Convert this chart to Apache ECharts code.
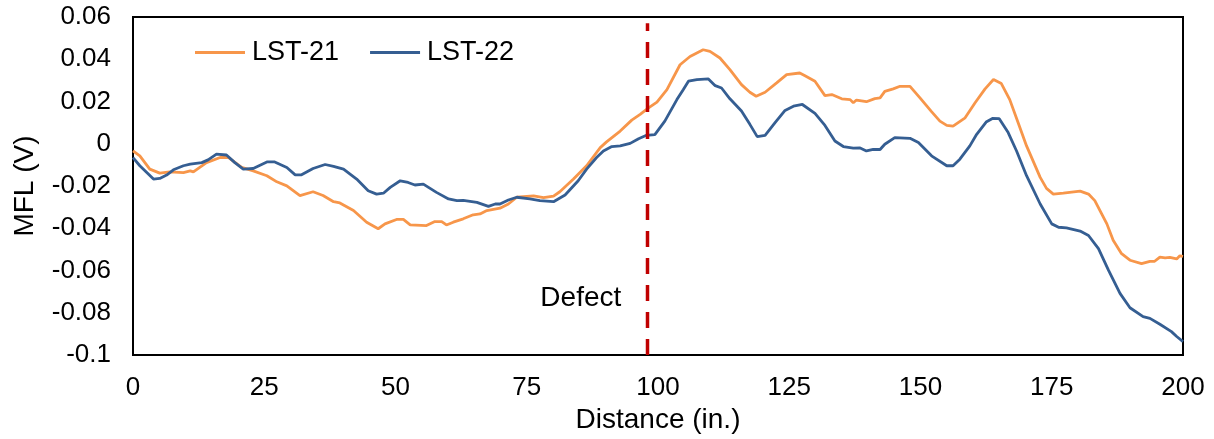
<!DOCTYPE html>
<html>
<head>
<meta charset="utf-8">
<script src="https://cdn.jsdelivr.net/npm/echarts@6/dist/echarts.min.js"></script>
<style>
html,body{margin:0;padding:0;background:#fff;}
#chart{width:1214px;height:439px;}
</style>
</head>
<body>
<div id="chart"></div>
<script>
// Distance (in.) vs MFL (V)
const lst21 = [[0,-0.0034],[1.3,-0.0057],[3.2,-0.012],[5.1,-0.0139],[7.0,-0.0133],[9.6,-0.0136],[10.9,-0.0128],[11.5,-0.0133],[14.0,-0.0089],[16.6,-0.0065],[18.2,-0.0065],[20.7,-0.0112],[22.9,-0.0128],[25.5,-0.0151],[27.4,-0.018],[29.3,-0.0199],[31.8,-0.0245],[34.3,-0.0227],[36.2,-0.0245],[38.2,-0.0274],[39.4,-0.028],[42.0,-0.0316],[44.5,-0.0371],[46.7,-0.0402],[48.0,-0.0379],[50.2,-0.0358],[51.5,-0.0358],[52.8,-0.0384],[55.9,-0.0387],[57.5,-0.0368],[58.8,-0.0368],[59.7,-0.0384],[61.0,-0.0371],[62.9,-0.0355],[64.8,-0.0336],[66.1,-0.0332],[67.4,-0.0316],[69.9,-0.0305],[71.5,-0.0285],[73.1,-0.0253],[76.3,-0.0246],[78.2,-0.0255],[80.1,-0.0248],[81.3,-0.0227],[83.9,-0.0167],[86.4,-0.0104],[89.0,-0.0018],[90.2,0.0009],[92.8,0.006],[95.0,0.0112],[96.6,0.0139],[98.2,0.017],[99.8,0.0197],[101.7,0.0256],[104.2,0.0374],[106.1,0.0413],[108.6,0.0445],[109.9,0.0437],[111.8,0.0406],[113.7,0.0351],[115.9,0.028],[117.5,0.0244],[118.7,0.0225],[120.4,0.0244],[122.6,0.0288],[124.5,0.0327],[127.0,0.0335],[128.0,0.0322],[129.9,0.0296],[131.8,0.0228],[133.1,0.0233],[135.0,0.0213],[136.6,0.0209],[137.2,0.0194],[137.8,0.0207],[139.7,0.0199],[141.3,0.0214],[142.3,0.0217],[143.2,0.0248],[144.8,0.026],[146.1,0.0272],[148.0,0.0272],[149.9,0.0217],[152.1,0.0152],[153.7,0.0107],[155.0,0.0087],[156.2,0.0084],[158.5,0.0123],[160.4,0.0194],[162.3,0.026],[163.9,0.0304],[165.4,0.0285],[167.0,0.0209],[168.6,0.01],[170.2,-0.001],[172.8,-0.0159],[174.0,-0.0211],[175.3,-0.0238],[177.2,-0.0233],[180.4,-0.0224],[182.0,-0.0238],[183.2,-0.0269],[185.5,-0.0379],[186.7,-0.0457],[188.3,-0.052],[189.9,-0.0551],[192.1,-0.0567],[193.7,-0.0556],[194.6,-0.0556],[195.6,-0.0536],[196.6,-0.054],[197.5,-0.0538],[198.8,-0.0545],[199.4,-0.053],[200,-0.0533]];

const lst22 = [[0,-0.0065],[1.3,-0.0104],[3.9,-0.0167],[5.1,-0.0164],[6.4,-0.0148],[7.7,-0.0123],[9.6,-0.0104],[10.9,-0.0096],[13.1,-0.0089],[14.3,-0.0076],[15.9,-0.0049],[17.8,-0.0053],[19.4,-0.0089],[21,-0.012],[22.9,-0.0117],[25.5,-0.0086],[27,-0.0086],[29.3,-0.0112],[30.9,-0.0147],[32.1,-0.0147],[34.3,-0.0117],[36.6,-0.0098],[38.2,-0.0107],[40.1,-0.012],[42.6,-0.0167],[44.8,-0.0222],[46.4,-0.0238],[47.7,-0.0234],[49,-0.0206],[50.9,-0.0175],[52.4,-0.0183],[53.7,-0.0195],[55.3,-0.0191],[57.8,-0.023],[60.1,-0.0261],[61.7,-0.0269],[62.9,-0.0268],[65.5,-0.0277],[67.7,-0.0296],[69,-0.0285],[69.9,-0.0285],[71.5,-0.0266],[73.1,-0.0253],[75.6,-0.0261],[77.5,-0.0269],[80.1,-0.0274],[82.3,-0.0242],[84.8,-0.0175],[86.4,-0.012],[88.3,-0.0065],[89.6,-0.0034],[91.2,-0.0013],[92.8,-0.001],[94.7,0.0002],[96.3,0.0024],[97.8,0.004],[99.4,0.0043],[101.3,0.0107],[103.6,0.0209],[104.8,0.0256],[105.8,0.0296],[107.4,0.0304],[109.6,0.0307],[110.9,0.0275],[112.1,0.0264],[113.7,0.0213],[115.9,0.0155],[117.5,0.0092],[118.9,0.0034],[120.4,0.004],[122.3,0.01],[124.2,0.0158],[125.8,0.0178],[127.5,0.0186],[129.9,0.0144],[131.8,0.0087],[133.7,0.0013],[135.3,-0.0013],[137.2,-0.0021],[138.5,-0.002],[139.7,-0.0034],[141,-0.0026],[142.3,-0.0027],[143.2,-0.0002],[145.1,0.0029],[148,0.0026],[149.6,0.0006],[152.1,-0.0057],[155,-0.0104],[156.2,-0.0104],[157.5,-0.0073],[159.4,-0.001],[160.7,0.0045],[162.5,0.0103],[163.7,0.012],[165,0.0119],[166.7,0.0053],[168.3,-0.0034],[170.2,-0.0151],[172.8,-0.0285],[175,-0.0379],[176.3,-0.0395],[177.8,-0.0398],[180.4,-0.0413],[182,-0.0434],[183.9,-0.0496],[185.8,-0.0598],[188,-0.0708],[189.9,-0.0776],[192.4,-0.0818],[193.7,-0.0826],[195.6,-0.0854],[197.8,-0.0889],[198.8,-0.0912],[200,-0.0936]];

const defectLine = [[98,-0.1],[98,0.057]];
const defectLabel = [85.3,-0.073];
const seriesNames = ['LST-21','LST-22'];
const xTicks = {min:0, max:200, interval:25};
const yTicks = {min:-0.1, max:0.06, interval:0.02};

const FONT = 'Liberation Sans, Arial, sans-serif';
const chart = echarts.init(document.getElementById('chart'), null, {renderer:'canvas'});
chart.setOption({
  animation:false,
  backgroundColor:'#fff',
  grid:{left:133, right:31, top:17, bottom:82, show:true, borderColor:'#000', borderWidth:2, backgroundColor:'transparent'},
  legend:{
    data:seriesNames, left:190, top:34, icon:'rect', itemWidth:50, itemHeight:3, itemGap:31,
    textStyle:{fontFamily:FONT, fontSize:27, color:'#000', padding:[0,0,0,2]}
  },
  xAxis:{
    type:'value', min:xTicks.min, max:xTicks.max, interval:xTicks.interval,
    name:'Distance (in.)', nameLocation:'middle', nameGap:47,
    nameTextStyle:{fontFamily:FONT, fontSize:28, color:'#000'},
    axisLine:{show:true, onZero:false, lineStyle:{color:'#000', width:2}},
    axisTick:{show:false}, splitLine:{show:false},
    axisLabel:{fontFamily:FONT, fontSize:26, color:'#000', margin:20}
  },
  yAxis:{
    type:'value', min:yTicks.min, max:yTicks.max, interval:yTicks.interval,
    name:'MFL (V)', nameLocation:'middle', nameGap:94,
    nameTextStyle:{fontFamily:FONT, fontSize:28, color:'#000'},
    axisLine:{show:true, onZero:false, lineStyle:{color:'#000', width:2}},
    axisTick:{show:false}, splitLine:{show:false},
    axisLabel:{fontFamily:FONT, fontSize:26, color:'#000', margin:22,
      formatter:function(v){return String(Number(v.toFixed(2)));}}
  },
  series:[
    {name:seriesNames[0], type:'line', data:lst21, showSymbol:false, symbol:'none',
     lineStyle:{color:'#F7964A', width:2.8}, itemStyle:{color:'#F7964A'}, z:3},
    {name:seriesNames[1], type:'line', data:lst22, showSymbol:false, symbol:'none',
     lineStyle:{color:'#355E92', width:2.8}, itemStyle:{color:'#355E92'}, z:4},
    {name:'Defect', type:'line', data:defectLine, showSymbol:false, symbol:'none',
     lineStyle:{color:'#C00000', width:3.5, type:[16,11]}, z:5,
     markPoint:{symbol:'circle', symbolSize:0, data:[{coord:defectLabel}],
       label:{show:true, position:'inside', formatter:'Defect', fontFamily:FONT, fontSize:28, color:'#000'}}}
  ]
});
</script>
</body>
</html>
